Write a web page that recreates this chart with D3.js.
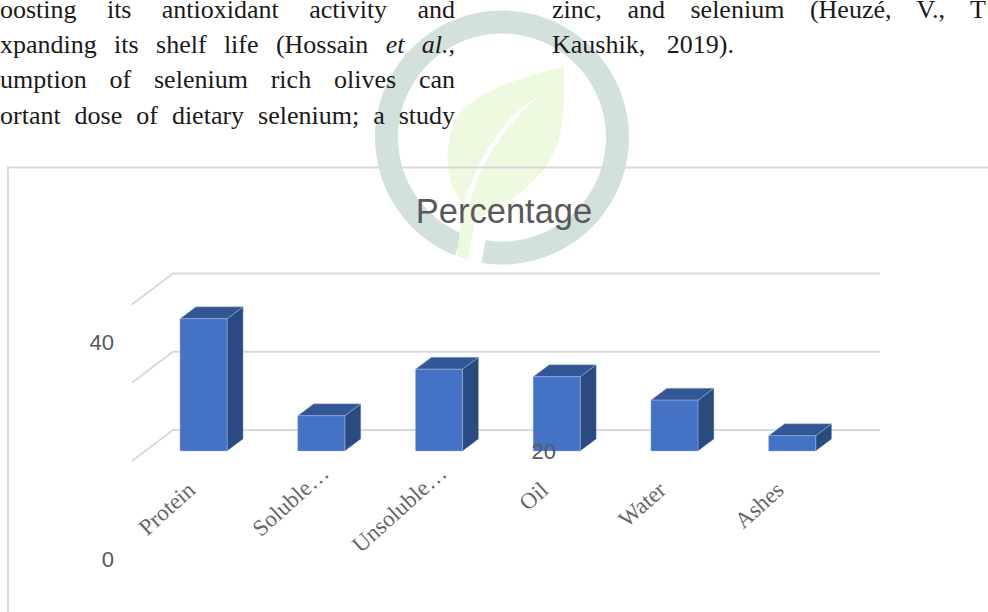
<!DOCTYPE html>
<html>
<head>
<meta charset="utf-8">
<script src="https://cdn.jsdelivr.net/npm/d3@7"></script>
<style>
  html, body { margin: 0; padding: 0; background: #fff; overflow: hidden; }
  svg { display: block; }
</style>
</head>
<body>
<div id="chart"></div>
<script>
// chart data
let categories = ['Protein', 'Soluble…', 'Unsoluble…', 'Oil', 'Water', 'Ashes'];
let values     = [33.8, 9, 20.9, 19, 13, 3.9];
let tickValues = [0, 20, 40];

// page text around the chart, only what is visible in the crop
let leftLines  = ['oosting its antioxidant activity and', 'xpanding its shelf life (Hossain et al.,', 'umption of selenium rich olives can', 'ortant dose of dietary selenium; a study'];
let rightLines = ['zinc, and selenium (Heuzé, V., T', 'Kaushik, 2019).'];

let w = 988;
let h = 612;
let svg = d3.select('#chart').append('svg').attr('width', w).attr('height', h);

// watermark behind everything
let ring = d3.arc().innerRadius(104).outerRadius(127)
    .startAngle(Math.PI + 0.38).endAngle(3 * Math.PI + 0.16);
svg.append('path').attr('transform', 'translate(502,137.5)').attr('d', ring()).attr('fill', '#d2e1dc');
svg.append('path').attr('fill', '#eefadf')
    .attr('d', 'M564,67 C520,76 478,92 460,113 C446,132 444,168 453,187 C457,197 461,201 463,203 L457,256 L468,260 L475,220 C500,206 530,192 550,160 C566,132 564,100 564,67 Z');
svg.append('path').attr('fill', '#fff')
    .attr('d', 'M538,97 C510,112 480,150 464,203 L470,203 C478,165 505,125 538,97 Z');

// body text, justified by stretching the word gaps
function bodyLine(text, y, x, width) {
    let t = svg.append('text').attr('y', y).attr('x', x)
        .attr('font-family', '"Liberation Serif", serif').attr('font-size', 26).attr('fill', '#1a1a1a');
    text.split(/(et al\.)/).forEach(p => {
        if (!p) return;
        t.append('tspan').text(p).attr('font-style', p == 'et al.' ? 'italic' : 'normal');
    });
    let gaps = text.split(' ').length - 1;
    t.attr('word-spacing', (width - t.node().getComputedTextLength()) / gaps);
}
leftLines.forEach((l, i) => bodyLine(l, 18 + i * 35.2, 0, 455));
bodyLine(rightLines[0], 18, 552, 434);
bodyLine(rightLines[1], 53, 552, 182);

// chart frame, runs off the picture on the right and at the bottom
svg.append('path').attr('d', 'M' + w + ',167.5 H8 V' + h)
    .attr('fill', 'none').attr('stroke', '#d9d9d9').attr('stroke-width', 2);

svg.append('text').attr('x', 504).attr('y', 223).attr('text-anchor', 'middle')
    .attr('font-family', '"Liberation Sans", sans-serif').attr('font-size', 34.5).attr('fill', '#595959')
    .text('Percentage');

// scales: y is the back wall of the fake 3d box
let x = d3.scaleBand().domain(categories).range([144.7, 851]).paddingInner(0.6).paddingOuter(0.3);
let y = d3.scaleLinear().domain([0, 40]).range([430, 273.5]);
// the tick labels sit on their own spacing in the reference, not on the gridlines
let yLabel = d3.scaleLinear().domain([0, 40]).range([559, 342]);

let floorDx = -41, floorDy = 31;  // wall to front of floor
let barDepth = [16, -12];         // front face to back face of a bar
let barBase = 21;                 // bar front stands this far under the wall zero line

let grid = svg.append('g').attr('fill', 'none').attr('stroke', '#d9d9d9').attr('stroke-width', 2);
grid.selectAll('path').data(tickValues).enter().append('path')
    .attr('d', d => 'M880,' + y(d) + ' H173 l' + floorDx + ',' + floorDy);

let bars = svg.append('g').selectAll('g').data(values).enter().append('g')
    .attr('stroke', '#a9c0e6').attr('stroke-width', 0.6).attr('stroke-opacity', 0.7).attr('stroke-linejoin', 'round');

let [dx, dy] = barDepth;
let bw = x.bandwidth();
let bottom = y(0) + barBase;
let barLeft = (d, i) => x(categories[i]);
let barTop = d => bottom - (y(0) - y(d));

bars.append('path').attr('fill', '#2a4a80')
    .attr('d', (d, i) => 'M' + (barLeft(d, i) + bw) + ',' + barTop(d) + ' l' + dx + ',' + dy + ' V' + (bottom + dy) + ' l' + (-dx) + ',' + (-dy) + ' Z');
bars.append('path').attr('fill', '#335694')
    .attr('d', (d, i) => 'M' + barLeft(d, i) + ',' + barTop(d) + ' l' + dx + ',' + dy + ' h' + bw + ' l' + (-dx) + ',' + (-dy) + ' Z');
bars.append('rect').attr('fill', '#4472c4')
    .attr('x', barLeft).attr('y', barTop).attr('width', bw).attr('height', d => bottom - barTop(d));

// tick labels, the 20 really does sit out on the Oil bar
svg.append('g').selectAll('text').data(tickValues).enter().append('text')
    .attr('x', d => d == 20 ? 556 : 114)
    .attr('y', d => yLabel(d) + 8)
    .attr('text-anchor', 'end')
    .attr('font-family', '"Liberation Sans", sans-serif').attr('font-size', 22).attr('fill', '#595959')
    .text(d => d);

// category labels, the cut ones end higher and further right
svg.append('g').selectAll('text').data(categories).enter().append('text')
    .attr('text-anchor', 'end')
    .attr('transform', d => {
        let cut = d.endsWith('…');
        return 'translate(' + (x(d) + bw / 2 + (cut ? 9 : -7)) + ',' + (cut ? 475 : 492) + ') rotate(-42)';
    })
    .attr('font-family', '"Liberation Serif", serif').attr('font-size', 23).attr('fill', '#666')
    .text(d => d);
</script>
</body>
</html>
